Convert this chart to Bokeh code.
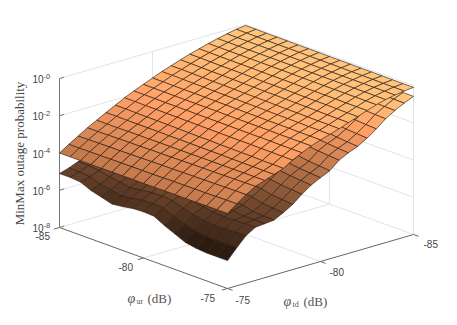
from bokeh.plotting import figure
from bokeh.models import Range1d, ColumnDataSource
from bokeh.core.properties import value
from bokeh.embed import file_html
from bokeh.resources import INLINE
import math

phi_ur = [-85,-84.375,-83.75,-83.125,-82.5,-81.875,-81.25,-80.625,-80,-79.375,-78.75,-78.125,-77.5,-76.875,-76.25,-75.625,-75]
phi_td = [-75,-75.5,-76,-76.5,-77,-77.5,-78,-78.5,-79,-79.5,-80,-80.5,-81,-81.5,-82,-82.5,-83,-83.5,-84,-84.5,-85]
ur_columns = [0,1,3,4,5,6,8,9,10,11,13,14,15,16,18,19,20]

# log10 of outage probability: rows follow phi_td, columns are read at ur_columns
upper_full = [
[-4.00,-4.00,-4.00,-4.00,-4.00,-4.00,-4.00,-4.00,-3.99,-3.99,-3.99,-3.99,-3.99,-3.98,-3.98,-3.98,-3.98,-3.97,-3.97,-3.97,-3.97],
[-3.68,-3.68,-3.67,-3.67,-3.67,-3.66,-3.66,-3.66,-3.65,-3.65,-3.65,-3.64,-3.64,-3.63,-3.63,-3.62,-3.62,-3.61,-3.61,-3.60,-3.60],
[-3.38,-3.37,-3.37,-3.36,-3.35,-3.35,-3.34,-3.33,-3.33,-3.32,-3.31,-3.31,-3.30,-3.29,-3.29,-3.28,-3.27,-3.27,-3.26,-3.25,-3.25],
[-3.08,-3.08,-3.07,-3.07,-3.06,-3.05,-3.05,-3.04,-3.03,-3.03,-3.02,-3.01,-3.01,-3.00,-2.99,-2.99,-2.98,-2.97,-2.97,-2.96,-2.95],
[-2.82,-2.82,-2.82,-2.82,-2.81,-2.81,-2.81,-2.81,-2.80,-2.80,-2.80,-2.80,-2.80,-2.79,-2.79,-2.79,-2.79,-2.79,-2.78,-2.78,-2.78],
[-2.55,-2.55,-2.55,-2.56,-2.56,-2.56,-2.56,-2.57,-2.57,-2.57,-2.57,-2.58,-2.58,-2.58,-2.58,-2.59,-2.59,-2.59,-2.59,-2.60,-2.60],
[-2.30,-2.30,-2.31,-2.31,-2.32,-2.32,-2.33,-2.34,-2.34,-2.35,-2.36,-2.36,-2.37,-2.38,-2.38,-2.39,-2.39,-2.40,-2.41,-2.41,-2.42],
[-2.05,-2.05,-2.06,-2.06,-2.06,-2.07,-2.07,-2.08,-2.08,-2.08,-2.09,-2.09,-2.09,-2.10,-2.10,-2.10,-2.11,-2.11,-2.11,-2.12,-2.12],
[-1.83,-1.83,-1.83,-1.83,-1.84,-1.84,-1.84,-1.84,-1.85,-1.85,-1.85,-1.85,-1.85,-1.86,-1.86,-1.86,-1.86,-1.86,-1.87,-1.87,-1.87],
[-1.62,-1.62,-1.62,-1.62,-1.63,-1.63,-1.63,-1.63,-1.63,-1.63,-1.64,-1.64,-1.64,-1.64,-1.64,-1.64,-1.65,-1.65,-1.65,-1.65,-1.65],
[-1.42,-1.42,-1.42,-1.43,-1.43,-1.43,-1.43,-1.44,-1.44,-1.44,-1.45,-1.45,-1.45,-1.45,-1.46,-1.46,-1.46,-1.46,-1.47,-1.47,-1.47],
[-1.22,-1.22,-1.23,-1.23,-1.24,-1.24,-1.25,-1.25,-1.26,-1.26,-1.27,-1.27,-1.28,-1.28,-1.29,-1.29,-1.30,-1.30,-1.31,-1.31,-1.32],
[-1.05,-1.05,-1.06,-1.06,-1.07,-1.08,-1.08,-1.09,-1.09,-1.10,-1.10,-1.11,-1.12,-1.12,-1.13,-1.13,-1.14,-1.14,-1.15,-1.15,-1.16],
[-0.88,-0.88,-0.89,-0.89,-0.90,-0.90,-0.91,-0.91,-0.92,-0.92,-0.93,-0.93,-0.94,-0.94,-0.95,-0.95,-0.96,-0.96,-0.97,-0.97,-0.98],
[-0.72,-0.72,-0.73,-0.73,-0.74,-0.74,-0.74,-0.75,-0.75,-0.76,-0.76,-0.76,-0.77,-0.77,-0.78,-0.78,-0.78,-0.79,-0.79,-0.80,-0.80],
[-0.58,-0.58,-0.58,-0.59,-0.59,-0.59,-0.59,-0.59,-0.60,-0.60,-0.60,-0.60,-0.60,-0.61,-0.61,-0.61,-0.61,-0.61,-0.62,-0.62,-0.62],
[-0.44,-0.44,-0.44,-0.44,-0.44,-0.44,-0.44,-0.44,-0.44,-0.44,-0.44,-0.45,-0.45,-0.45,-0.45,-0.45,-0.45,-0.45,-0.45,-0.45,-0.45],
[-0.32,-0.32,-0.32,-0.32,-0.32,-0.32,-0.32,-0.32,-0.32,-0.32,-0.32,-0.32,-0.32,-0.32,-0.32,-0.32,-0.32,-0.32,-0.32,-0.32,-0.32],
[-0.21,-0.21,-0.21,-0.21,-0.21,-0.21,-0.21,-0.21,-0.21,-0.21,-0.22,-0.22,-0.22,-0.22,-0.22,-0.22,-0.22,-0.22,-0.22,-0.22,-0.22],
[-0.11,-0.11,-0.11,-0.11,-0.12,-0.12,-0.12,-0.12,-0.12,-0.13,-0.13,-0.13,-0.13,-0.13,-0.14,-0.14,-0.14,-0.14,-0.15,-0.15,-0.15],
[-0.05,-0.05,-0.06,-0.06,-0.06,-0.06,-0.07,-0.07,-0.07,-0.07,-0.08,-0.08,-0.08,-0.08,-0.09,-0.09,-0.09,-0.09,-0.10,-0.10,-0.10],
]
lower_full = [
[-5.10,-5.10,-5.10,-5.15,-5.40,-5.55,-5.72,-5.72,-5.65,-5.55,-5.52,-5.55,-5.60,-5.85,-6.10,-6.35,-6.45,-6.45,-6.50,-6.50,-6.50],
[-4.95,-4.95,-4.97,-5.00,-5.20,-5.30,-5.42,-5.42,-5.35,-5.25,-5.22,-5.25,-5.30,-5.50,-5.70,-5.85,-5.95,-5.97,-5.97,-5.96,-5.95],
[-4.75,-4.76,-4.78,-4.82,-4.95,-5.05,-5.13,-5.13,-5.06,-4.98,-4.97,-5.00,-5.05,-5.20,-5.35,-5.47,-5.52,-5.52,-5.50,-5.47,-5.45],
[-4.60,-4.60,-4.62,-4.65,-4.75,-4.82,-4.88,-4.88,-4.80,-4.73,-4.73,-4.78,-4.83,-4.95,-5.07,-5.15,-5.20,-5.20,-5.18,-5.16,-5.15],
[-4.35,-4.38,-4.42,-4.48,-4.55,-4.60,-4.65,-4.65,-4.60,-4.55,-4.55,-4.60,-4.66,-4.75,-4.85,-4.95,-5.02,-5.07,-5.10,-5.10,-5.10],
[-4.12,-4.16,-4.20,-4.25,-4.32,-4.38,-4.42,-4.42,-4.38,-4.36,-4.38,-4.42,-4.48,-4.56,-4.66,-4.76,-4.85,-4.93,-5.00,-5.04,-5.05],
[-3.85,-3.90,-3.94,-3.98,-4.03,-4.08,-4.13,-4.16,-4.18,-4.20,-4.22,-4.26,-4.30,-4.36,-4.42,-4.49,-4.56,-4.63,-4.70,-4.76,-4.80],
[-3.60,-3.65,-3.69,-3.73,-3.78,-3.83,-3.87,-3.90,-3.93,-3.96,-3.99,-4.02,-4.06,-4.11,-4.16,-4.21,-4.27,-4.33,-4.39,-4.45,-4.50],
[-3.35,-3.38,-3.42,-3.46,-3.50,-3.54,-3.58,-3.61,-3.64,-3.67,-3.70,-3.73,-3.76,-3.80,-3.84,-3.88,-3.92,-3.96,-4.00,-4.05,-4.10],
[-3.10,-3.13,-3.16,-3.19,-3.22,-3.25,-3.28,-3.31,-3.34,-3.37,-3.40,-3.43,-3.46,-3.49,-3.52,-3.55,-3.58,-3.62,-3.66,-3.71,-3.75],
[-2.85,-2.88,-2.91,-2.94,-2.97,-3.00,-3.03,-3.06,-3.09,-3.12,-3.15,-3.18,-3.21,-3.24,-3.27,-3.30,-3.33,-3.37,-3.41,-3.46,-3.50],
[-2.60,-2.63,-2.66,-2.69,-2.72,-2.75,-2.78,-2.81,-2.84,-2.87,-2.90,-2.93,-2.96,-2.99,-3.02,-3.05,-3.08,-3.12,-3.17,-3.22,-3.27],
[-2.35,-2.37,-2.40,-2.42,-2.44,-2.47,-2.49,-2.51,-2.54,-2.56,-2.58,-2.60,-2.62,-2.64,-2.66,-2.68,-2.70,-2.73,-2.76,-2.81,-2.85],
[-2.10,-2.12,-2.14,-2.16,-2.18,-2.21,-2.23,-2.25,-2.27,-2.29,-2.31,-2.33,-2.35,-2.37,-2.39,-2.41,-2.44,-2.47,-2.51,-2.56,-2.60],
[-1.85,-1.87,-1.89,-1.91,-1.93,-1.96,-1.98,-2.00,-2.02,-2.05,-2.07,-2.09,-2.12,-2.14,-2.17,-2.20,-2.23,-2.27,-2.31,-2.36,-2.40],
[-1.60,-1.62,-1.64,-1.66,-1.68,-1.71,-1.73,-1.75,-1.77,-1.79,-1.81,-1.83,-1.85,-1.87,-1.90,-1.92,-1.95,-1.98,-2.02,-2.06,-2.10],
[-1.35,-1.37,-1.38,-1.40,-1.42,-1.44,-1.45,-1.47,-1.49,-1.50,-1.52,-1.54,-1.55,-1.57,-1.59,-1.61,-1.63,-1.65,-1.68,-1.72,-1.75],
[-1.10,-1.11,-1.12,-1.13,-1.14,-1.15,-1.16,-1.17,-1.18,-1.19,-1.20,-1.21,-1.22,-1.23,-1.24,-1.25,-1.27,-1.28,-1.30,-1.33,-1.35],
[-0.90,-0.91,-0.91,-0.92,-0.92,-0.93,-0.93,-0.94,-0.95,-0.95,-0.96,-0.96,-0.97,-0.98,-0.98,-0.99,-1.00,-1.01,-1.02,-1.04,-1.05],
[-0.70,-0.70,-0.71,-0.71,-0.72,-0.72,-0.73,-0.73,-0.74,-0.74,-0.75,-0.75,-0.75,-0.76,-0.76,-0.77,-0.77,-0.78,-0.78,-0.79,-0.80],
[-0.50,-0.50,-0.51,-0.51,-0.52,-0.52,-0.53,-0.53,-0.54,-0.54,-0.54,-0.55,-0.55,-0.55,-0.56,-0.56,-0.56,-0.57,-0.57,-0.58,-0.58],
]
upper_log10 = [[row[i] for i in ur_columns] for row in upper_full]
lower_log10 = [[row[i] for i in ur_columns] for row in lower_full]

z_ticks = [-8, -6, -4, -2, 0]
z_exponent_labels = ["-8", "-6", "-4", "-2", "-0"]
ur_ticks = [-85, -80, -75]
td_ticks = [-75, -80, -85]
y_title = "MinMax outage probability"

W, H = 441, 309

# view: screen position of the floor corners and vertical scale per decade
ORIGIN = (59.0, 227.0)
UR_VEC = (168.0, 61.0)
TD_VEC = (186.0, -54.0)
DECADE = 18.62

def project(ur, td, z):
    a = (ur + 85) / 10
    b = (-75 - td) / 10
    return (ORIGIN[0] + a * UR_VEC[0] + b * TD_VEC[0],
            ORIGIN[1] + a * UR_VEC[1] + b * TD_VEC[1] - (z + 8) * DECADE)

def copper(v):
    v = max(0.0, min(1.0, v))
    r, g, b = min(1.0, 1.25 * v), 0.7812 * v, 0.4975 * v
    return "#%02x%02x%02x" % (round(255 * r), round(255 * g), round(255 * b))

p = figure(width=W, height=H, output_backend="svg", toolbar_location=None,
           x_range=Range1d(0, W), y_range=Range1d(H, 0),
           min_border=0, outline_line_color=None, background_fill_color="white")
p.axis.visible = False
p.grid.visible = False

def seg(a, b, color, width=1.0):
    p.line([a[0], b[0]], [a[1], b[1]], line_color=color, line_width=width)

GRID = "#e4e4e4"
AXIS = "#7a7a7a"
for z in z_ticks:
    seg(project(-85, -75, z), project(-85, -85, z), GRID)
    seg(project(-85, -85, z), project(-75, -85, z), GRID)
seg(project(-85, -80, -8), project(-85, -80, 0), GRID)
seg(project(-85, -85, -8), project(-85, -85, 0), GRID)
seg(project(-80, -85, -8), project(-80, -85, 0), GRID)
seg(project(-75, -85, -8), project(-75, -85, 0), GRID)
seg(project(-80, -75, -8), project(-80, -85, -8), GRID)
seg(project(-85, -80, -8), project(-75, -80, -8), GRID)
seg(project(-85, -75, -8), project(-85, -75, 0), AXIS)
seg(project(-85, -75, -8), project(-75, -75, -8), "#666666")
seg(project(-75, -75, -8), project(-75, -85, -8), "#666666")
for z in z_ticks:
    seg(project(-85, -75, z), project(-85, -75.25, z), AXIS)
for t in ur_ticks:
    seg(project(t, -75, -8), project(t, -74.7, -8), "#666666")
for t in td_ticks:
    seg(project(-75, t, -8), project(-74.7, t, -8), "#666666")

def surface(table, z_lo, z_hi):
    xs, ys, colors = [], [], []
    for j in range(len(phi_td) - 2, -1, -1):
        for i in range(len(phi_ur) - 1):
            corners = [(i, j), (i + 1, j), (i + 1, j + 1), (i, j + 1)]
            pts = [project(phi_ur[a], phi_td[b], table[b][a]) for a, b in corners]
            xs.append([q[0] for q in pts])
            ys.append([q[1] for q in pts])
            mean = sum(table[b][a] for a, b in corners) / 4
            colors.append(copper((mean - z_lo) / (z_hi - z_lo)))
    src = ColumnDataSource(dict(xs=xs, ys=ys, c=colors))
    p.patches("xs", "ys", source=src, fill_color="c", fill_alpha=1.0,
              line_color="#2a1a10", line_alpha=0.8, line_width=0.8, line_join="round")

surface(lower_log10, -7.1, -0.6)
surface(upper_log10, -10.0, 0.0)

def label(x, y, s, size, font="Liberation Sans", color="#454545", style="normal",
          align="left", angle=0.0):
    p.text([x], [y], text=[s], text_font=value(font), text_font_size=value(f"{size}px"),
           text_color=color, text_align=align, text_baseline="middle",
           text_font_style=style, angle=angle)

for z, e in zip(z_ticks, z_exponent_labels):
    _, yy = project(-85, -75, z)
    label(32, yy + 0.5, "10", 10)
    label(43, yy - 2.5, e, 7.5)

for (x, y), t in zip([(35, 235), (118, 266), (200, 297)], ur_ticks):
    label(x, y, str(t), 10)
for (x, y), t in zip([(235, 299), (329, 271), (423, 243)], td_ticks):
    label(x, y, str(t), 10)

SERIF = "Liberation Serif"
label(127, 298, "\u03c6", 14, SERIF, "#555555", "italic")
label(136, 301, "ur", 8, SERIF, "#555555")
label(147, 298, "(dB)", 13, SERIF, "#555555")
label(283, 301, "\u03c6", 14, SERIF, "#555555", "italic")
label(292, 304, "td", 8, SERIF, "#555555")
label(303, 301, "(dB)", 13, SERIF, "#555555")
label(18.5, 153, y_title, 13, SERIF, "#454545", align="center", angle=math.pi / 2)

open("out.html", "w").write(file_html(p, INLINE))
